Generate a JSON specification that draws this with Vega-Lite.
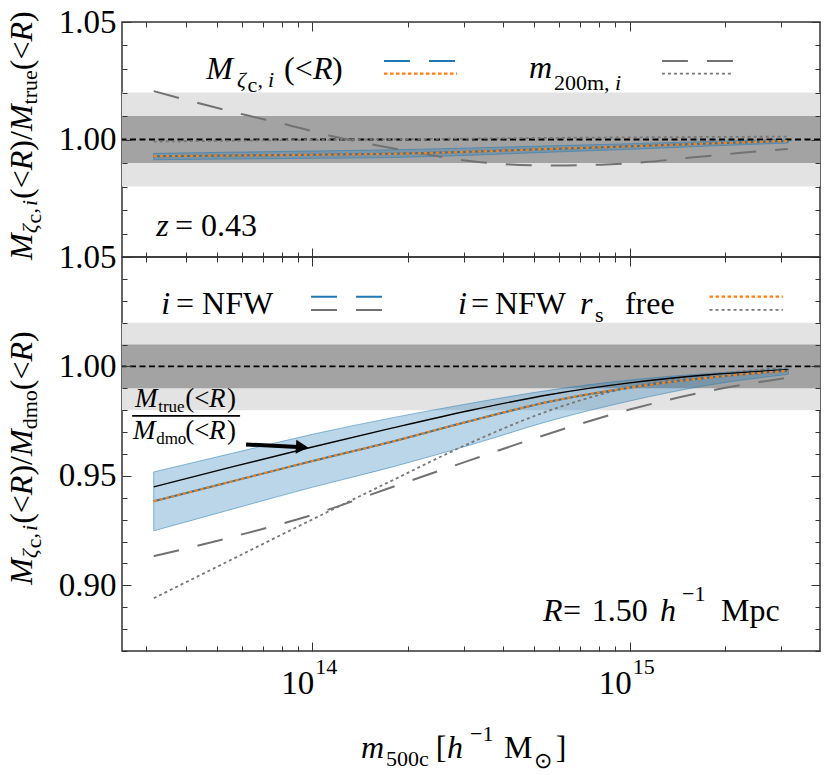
{
  "$schema": "https://vega.github.io/schema/vega-lite/v6.json",
  "padding": {"left": 5, "top": 5, "right": 5, "bottom": 0},
  "spacing": 0,
  "bounds": "flush",
  "config": {"view": {"stroke": "#333", "strokeWidth": 1.5}, "text": {"font": "Liberation Serif"}},
  "datasets": {
    "bands": [{"level": "2%", "lo": 0.98, "hi": 1.02}, {"level": "1%", "lo": 0.99, "hi": 1.01}],
    "one": [{"k": 1}],
    "top": [
      {"m": 3.1623e13, "nfw": 0.9929, "rs": 0.9929, "gr": 0.9991, "lo": 0.9914, "hi": 0.9941},
      {"m": 5.6234e13, "nfw": 0.9932, "rs": 0.9932, "gr": 0.9995, "lo": 0.9917, "hi": 0.9946},
      {"m": 1e14, "nfw": 0.9935, "rs": 0.9935, "gr": 0.9998, "lo": 0.992, "hi": 0.9951},
      {"m": 1.7783e14, "nfw": 0.9939, "rs": 0.9939, "gr": 1.0001, "lo": 0.9923, "hi": 0.9956},
      {"m": 3.1623e14, "nfw": 0.9948, "rs": 0.9948, "gr": 1.0004, "lo": 0.9933, "hi": 0.9964},
      {"m": 5.6234e14, "nfw": 0.996, "rs": 0.996, "gr": 1.0007, "lo": 0.9946, "hi": 0.9973},
      {"m": 1e15, "nfw": 0.9971, "rs": 0.9971, "gr": 1.0009, "lo": 0.9958, "hi": 0.9982},
      {"m": 1.7783e15, "nfw": 0.9983, "rs": 0.9983, "gr": 1.0011, "lo": 0.9972, "hi": 0.9992},
      {"m": 3.1623e15, "nfw": 0.9994, "rs": 0.9994, "gr": 1.0012, "lo": 0.9985, "hi": 1.0001}
    ],
    "top_gn": [
      {"m": 3.164e13, "v": 1.0206}, {"m": 4.364e13, "v": 1.0155}, {"m": 6.124e13, "v": 1.0105},
      {"m": 8.383e13, "v": 1.0062}, {"m": 1.148e14, "v": 1.0015}, {"m": 1.573e14, "v": 0.9977},
      {"m": 2.153e14, "v": 0.9943}, {"m": 3.028e14, "v": 0.9911}, {"m": 4.197e14, "v": 0.9894},
      {"m": 5.818e14, "v": 0.9889}, {"m": 8.121e14, "v": 0.9893}, {"m": 1.125e15, "v": 0.9904},
      {"m": 1.56e15, "v": 0.9923}, {"m": 2.162e15, "v": 0.9941}, {"m": 3.153e15, "v": 0.996}
    ],
    "bot": [
      {"m": 3.1623e13, "tr": 0.945, "nfw": 0.9384, "rs": 0.9384, "gn": 0.9133, "gr": 0.8941, "lo": 0.9249, "hi": 0.9518},
      {"m": 5.6234e13, "tr": 0.9542, "nfw": 0.9476, "rs": 0.9476, "gn": 0.9222, "gr": 0.9121, "lo": 0.9349, "hi": 0.9604},
      {"m": 1e14, "tr": 0.9632, "nfw": 0.9568, "rs": 0.9568, "gn": 0.9322, "gr": 0.9301, "lo": 0.9448, "hi": 0.969},
      {"m": 1.7783e14, "tr": 0.9718, "nfw": 0.9656, "rs": 0.9656, "gn": 0.9448, "gr": 0.9478, "lo": 0.954, "hi": 0.9765},
      {"m": 3.1623e14, "tr": 0.98, "nfw": 0.9752, "rs": 0.9752, "gn": 0.9573, "gr": 0.9652, "lo": 0.9642, "hi": 0.9832},
      {"m": 5.6234e14, "tr": 0.9872, "nfw": 0.984, "rs": 0.984, "gn": 0.9695, "gr": 0.98, "lo": 0.9752, "hi": 0.9892},
      {"m": 1e15, "tr": 0.9925, "nfw": 0.9903, "rs": 0.9903, "gn": 0.9803, "gr": 0.9905, "lo": 0.9842, "hi": 0.9938},
      {"m": 1.7783e15, "tr": 0.9962, "nfw": 0.9949, "rs": 0.9949, "gn": 0.9888, "gr": 0.9962, "lo": 0.9915, "hi": 0.9968},
      {"m": 3.1623e15, "tr": 0.9985, "nfw": 0.998, "rs": 0.998, "gn": 0.9949, "gr": 0.9995, "lo": 0.9964, "hi": 0.999}
    ],
    "top_leg": [
      {"s": "nfw", "x1": 1.682e14, "x2": 2.836e14, "y": 1.0334},
      {"s": "rs", "x1": 1.682e14, "x2": 2.857e14, "y": 1.028},
      {"s": "gn", "x1": 1.264e15, "x2": 2.131e15, "y": 1.0334},
      {"s": "gr", "x1": 1.264e15, "x2": 2.085e15, "y": 1.028}
    ],
    "bot_leg": [
      {"s": "nfw", "x1": 9.906e13, "x2": 1.694e14, "y": 1.03187},
      {"s": "gn", "x1": 9.906e13, "x2": 1.694e14, "y": 1.0258},
      {"s": "rs", "x1": 1.786e15, "x2": 3.041e15, "y": 1.03187},
      {"s": "gr", "x1": 1.786e15, "x2": 3.041e15, "y": 1.0258}
    ],
    "frac": [{"x1": 2.704e13, "x2": 5.918e13, "y": 0.9774}],
    "arrow": [{"x1": 6.18e13, "x2": 9.014e13, "y1": 0.96438, "y2": 0.96324}],
    "head": [{"x": 9.28e13, "y": 0.96315}],
    "t_bi": [
      {"x": 4.626e13, "y": 1.02574, "t": "M"}, {"x": 1.005e14, "y": 1.02574, "t": "R"},
      {"x": 4.816e14, "y": 1.02617, "t": "m"}, {"x": 3.218e13, "y": 0.95894, "t": "z"}
    ],
    "t_bn": [
      {"x": 8.143e13, "y": 1.02574, "t": "(<"}, {"x": 1.154e14, "y": 1.02574, "t": ")"},
      {"x": 3.693e13, "y": 0.95894, "t": "="}, {"x": 4.46e13, "y": 0.95894, "t": "0.43"}
    ],
    "t_si": [
      {"x": 5.789e13, "y": 1.02234, "t": "ζ"}, {"x": 7.252e13, "y": 1.02234, "t": "i"},
      {"x": 8.99e14, "y": 1.02106, "t": "i"}
    ],
    "t_sn": [
      {"x": 6.248e13, "y": 1.02021, "t": "c"}, {"x": 6.721e13, "y": 1.02234, "t": ","},
      {"x": 5.776e14, "y": 1.02106, "t": "200m,"}
    ],
    "t_rbi": [
      {"x": 1.309e13, "y": 0.94872, "t": "M"}, {"x": 1.309e13, "y": 0.98689, "t": "R"},
      {"x": 1.309e13, "y": 1.00357, "t": "M"}, {"x": 1.309e13, "y": 1.0417, "t": "R"}
    ],
    "t_rbn": [
      {"x": 1.309e13, "y": 0.97468, "t": "(<"}, {"x": 1.309e13, "y": 0.99523, "t": ")"},
      {"x": 1.309e13, "y": 0.99979, "t": "/"}, {"x": 1.309e13, "y": 1.02949, "t": "(<"},
      {"x": 1.309e13, "y": 1.05004, "t": ")"}
    ],
    "t_rsi": [
      {"x": 1.357e13, "y": 0.96009, "t": "ζ"}, {"x": 1.357e13, "y": 0.97166, "t": "i"}
    ],
    "t_rsn": [
      {"x": 1.397e13, "y": 0.9643, "t": "c"}, {"x": 1.357e13, "y": 0.96847, "t": ","},
      {"x": 1.357e13, "y": 1.01494, "t": "true"}
    ],
    "b_bi": [
      {"x": 3.337e13, "y": 1.02384, "t": "i"}, {"x": 2.877e14, "y": 1.02384, "t": "i"},
      {"x": 6.972e14, "y": 1.02384, "t": "r"}, {"x": 5.331e14, "y": 0.88379, "t": "R"},
      {"x": 1.246e15, "y": 0.88379, "t": "h"}, {"x": 1.423e14, "y": 0.82123, "t": "m"},
      {"x": 2.657e14, "y": 0.82123, "t": "h"}
    ],
    "b_bn": [
      {"x": 3.72e13, "y": 1.02384, "t": "="}, {"x": 4.493e13, "y": 1.02384, "t": "NFW"},
      {"x": 3.162e14, "y": 1.02384, "t": "="}, {"x": 3.763e14, "y": 1.02384, "t": "NFW"},
      {"x": 9.665e14, "y": 1.02384, "t": "free"}, {"x": 6.164e14, "y": 0.88379, "t": "="},
      {"x": 7.6e14, "y": 0.88379, "t": "1.50"}, {"x": 1.94e15, "y": 0.88379, "t": "Mpc"},
      {"x": 2.45e14, "y": 0.82123, "t": "["}, {"x": 4.02e14, "y": 0.82123, "t": "M"},
      {"x": 5.85e14, "y": 0.82123, "t": "]"}
    ],
    "b_sn": [
      {"x": 7.777e14, "y": 1.02032, "t": "s"}, {"x": 1.462e15, "y": 0.89292, "t": "−1"},
      {"x": 1.707e14, "y": 0.81758, "t": "500c"}, {"x": 3.139e14, "y": 0.829, "t": "−1"},
      {"x": 4.99e14, "y": 0.81667, "t": "⊙"}, {"x": 1.022e14, "y": 0.85959, "t": "14"},
      {"x": 1.022e15, "y": 0.85959, "t": "15"}
    ],
    "b_tick": [
      {"x": 1.0146e14, "y": 0.85046, "t": "10"}, {"x": 1.0146e15, "y": 0.85046, "t": "10"}
    ],
    "b_fi": [
      {"x": 2.763e13, "y": 0.98128, "t": "M"}, {"x": 4.727e13, "y": 0.98128, "t": "R"},
      {"x": 2.723e13, "y": 0.96667, "t": "M"}, {"x": 4.727e13, "y": 0.96667, "t": "R"}
    ],
    "b_fn": [
      {"x": 3.972e13, "y": 0.98128, "t": "(<"}, {"x": 5.387e13, "y": 0.98128, "t": ")"},
      {"x": 3.972e13, "y": 0.96667, "t": "(<"}, {"x": 5.387e13, "y": 0.96667, "t": ")"}
    ],
    "b_fsn": [
      {"x": 3.266e13, "y": 0.97922, "t": "true"}, {"x": 3.218e13, "y": 0.96461, "t": "dmo"}
    ],
    "b_rbi": [
      {"x": 1.309e13, "y": 0.90023, "t": "M"}, {"x": 1.309e13, "y": 0.94119, "t": "R"},
      {"x": 1.309e13, "y": 0.95909, "t": "M"}, {"x": 1.309e13, "y": 1.00224, "t": "R"}
    ],
    "b_rbn": [
      {"x": 1.309e13, "y": 0.92808, "t": "(<"}, {"x": 1.309e13, "y": 0.95014, "t": ")"},
      {"x": 1.309e13, "y": 0.95502, "t": "/"}, {"x": 1.309e13, "y": 0.98913, "t": "(<"},
      {"x": 1.309e13, "y": 1.01119, "t": ")"}
    ],
    "b_rsi": [
      {"x": 1.357e13, "y": 0.91242, "t": "ζ"}, {"x": 1.357e13, "y": 0.92484, "t": "i"}
    ],
    "b_rsn": [
      {"x": 1.397e13, "y": 0.91694, "t": "c"}, {"x": 1.357e13, "y": 0.92142, "t": ","},
      {"x": 1.357e13, "y": 0.97128, "t": "dmo"}
    ]
  },
  "vconcat": [
    {
      "width": 698,
      "height": 235,
      "resolve": {"scale": {"x": "shared", "y": "shared"}, "axis": {"x": "independent", "y": "independent"}},
      "layer": [
        {"data": {"name": "bands"}, "mark": {"type": "rect"},
         "encoding": {
           "x": {"datum": 2.512e13, "type": "quantitative", "scale": {"type": "log", "domain": [2.512e13, 3.981e15], "nice": false}, "axis": null},
           "x2": {"datum": 3.981e15},
           "y": {"field": "lo", "type": "quantitative", "scale": {"domain": [0.95, 1.05], "nice": false, "zero": false}, "axis": null},
           "y2": {"field": "hi"},
           "color": {"field": "level", "type": "nominal", "scale": {"domain": ["2%", "1%"], "range": ["#e3e3e3", "#a3a3a3"]}, "legend": null}}},
        {"data": {"name": "top"}, "mark": {"type": "area", "interpolate": "monotone", "fill": "#1f77b4", "fillOpacity": 0.3, "stroke": "#1f77b4", "strokeOpacity": 0.5, "strokeWidth": 1},
         "encoding": {
           "x": {"field": "m", "type": "quantitative", "scale": {"type": "log", "domain": [2.512e13, 3.981e15], "nice": false}, "axis": null},
           "y": {"field": "lo", "type": "quantitative", "scale": {"domain": [0.95, 1.05], "nice": false, "zero": false}, "axis": null},
           "y2": {"field": "hi"}}},
        {"data": {"name": "one"}, "mark": {"type": "rule", "color": "black", "strokeDash": [6, 3.5], "strokeWidth": 1.8},
         "encoding": {"y": {"datum": 1, "type": "quantitative", "scale": {"domain": [0.95, 1.05], "nice": false, "zero": false}, "axis": null}}},
        {"data": {"name": "top_gn"}, "mark": {"type": "line", "interpolate": "monotone", "color": "#727272", "strokeDash": [26, 19], "strokeWidth": 2},
         "encoding": {
           "x": {"field": "m", "type": "quantitative", "scale": {"type": "log", "domain": [2.512e13, 3.981e15], "nice": false}, "axis": null},
           "y": {"field": "v", "type": "quantitative", "scale": {"domain": [0.95, 1.05], "nice": false, "zero": false}, "axis": null}}},
        {"data": {"name": "top"}, "mark": {"type": "line", "interpolate": "monotone", "color": "#777777", "strokeDash": [3, 3], "strokeWidth": 1.8},
         "encoding": {
           "x": {"field": "m", "type": "quantitative", "scale": {"type": "log", "domain": [2.512e13, 3.981e15], "nice": false}, "axis": null},
           "y": {"field": "gr", "type": "quantitative", "scale": {"domain": [0.95, 1.05], "nice": false, "zero": false}, "axis": null}}},
        {"data": {"name": "top"}, "mark": {"type": "line", "interpolate": "monotone", "color": "#1f77b4", "strokeWidth": 2},
         "encoding": {
           "x": {"field": "m", "type": "quantitative", "scale": {"type": "log", "domain": [2.512e13, 3.981e15], "nice": false},
                 "axis": {"orient": "bottom", "values": [3e13, 4e13, 5e13, 6e13, 7e13, 8e13, 9e13, 1e14, 2e14, 3e14, 4e14, 5e14, 6e14, 7e14, 8e14, 9e14, 1e15, 2e15, 3e15], "labels": false,
                          "tickSize": {"condition": {"test": "datum.value == 1e14 || datum.value == 1e15", "value": -9}, "value": -5},
                          "domain": false, "grid": false, "title": null, "tickColor": "#333", "tickWidth": 1, "zindex": 1}},
           "y": {"field": "nfw", "type": "quantitative", "scale": {"domain": [0.95, 1.05], "nice": false, "zero": false},
                 "axis": {"orient": "left", "values": [0.95, 0.96, 0.97, 0.98, 0.99, 1, 1.01, 1.02, 1.03, 1.04, 1.05],
                          "labelExpr": "abs(datum.value*20-round(datum.value*20))<0.001 && datum.value > 0.97 ? format(datum.value, '.2f') : ''",
                          "labelFont": "Liberation Serif", "labelFontSize": 33, "labelColor": "black", "labelPadding": 15,
                          "labelOverlap": false, "labelFlush": false, "labelBound": false,
                          "tickSize": {"condition": {"test": "abs(datum.value*20-round(datum.value*20))<0.001", "value": -9}, "value": -5},
                          "domain": false, "grid": false, "title": null, "tickColor": "#333", "tickWidth": 1, "zindex": 1}}}},
        {"data": {"name": "top"}, "mark": {"type": "line", "interpolate": "monotone", "color": "#ff7f0e", "strokeDash": [3.5, 2.5], "strokeWidth": 2.2},
         "encoding": {
           "x": {"field": "m", "type": "quantitative", "scale": {"type": "log", "domain": [2.512e13, 3.981e15], "nice": false},
                 "axis": {"orient": "top", "values": [3e13, 4e13, 5e13, 6e13, 7e13, 8e13, 9e13, 1e14, 2e14, 3e14, 4e14, 5e14, 6e14, 7e14, 8e14, 9e14, 1e15, 2e15, 3e15], "labels": false,
                          "tickSize": {"condition": {"test": "datum.value == 1e14 || datum.value == 1e15", "value": -9}, "value": -5},
                          "domain": false, "grid": false, "title": null, "tickColor": "#333", "tickWidth": 1, "zindex": 1}},
           "y": {"field": "rs", "type": "quantitative", "scale": {"domain": [0.95, 1.05], "nice": false, "zero": false},
                 "axis": {"orient": "right", "values": [0.95, 0.96, 0.97, 0.98, 0.99, 1, 1.01, 1.02, 1.03, 1.04, 1.05], "labels": false,
                          "tickSize": {"condition": {"test": "abs(datum.value*20-round(datum.value*20))<0.001", "value": -9}, "value": -5},
                          "domain": false, "grid": false, "title": null, "tickColor": "#333", "tickWidth": 1, "zindex": 1}}}},
        {"data": {"name": "top_leg"}, "transform": [{"filter": "datum.s == 'nfw'"}], "mark": {"type": "rule", "color": "#1f77b4", "strokeDash": [26, 19], "strokeWidth": 2},
         "encoding": {"x": {"field": "x1", "type": "quantitative", "scale": {"type": "log", "domain": [2.512e13, 3.981e15], "nice": false}, "axis": null}, "x2": {"field": "x2"},
                      "y": {"field": "y", "type": "quantitative", "scale": {"domain": [0.95, 1.05], "nice": false, "zero": false}, "axis": null}}},
        {"data": {"name": "top_leg"}, "transform": [{"filter": "datum.s == 'rs'"}], "mark": {"type": "rule", "color": "#ff7f0e", "strokeDash": [3.5, 2.5], "strokeWidth": 2.2},
         "encoding": {"x": {"field": "x1", "type": "quantitative", "scale": {"type": "log", "domain": [2.512e13, 3.981e15], "nice": false}, "axis": null}, "x2": {"field": "x2"},
                      "y": {"field": "y", "type": "quantitative", "scale": {"domain": [0.95, 1.05], "nice": false, "zero": false}, "axis": null}}},
        {"data": {"name": "top_leg"}, "transform": [{"filter": "datum.s == 'gn'"}], "mark": {"type": "rule", "color": "#727272", "strokeDash": [26, 19], "strokeWidth": 2},
         "encoding": {"x": {"field": "x1", "type": "quantitative", "scale": {"type": "log", "domain": [2.512e13, 3.981e15], "nice": false}, "axis": null}, "x2": {"field": "x2"},
                      "y": {"field": "y", "type": "quantitative", "scale": {"domain": [0.95, 1.05], "nice": false, "zero": false}, "axis": null}}},
        {"data": {"name": "top_leg"}, "transform": [{"filter": "datum.s == 'gr'"}], "mark": {"type": "rule", "color": "#777777", "strokeDash": [3, 3], "strokeWidth": 1.8},
         "encoding": {"x": {"field": "x1", "type": "quantitative", "scale": {"type": "log", "domain": [2.512e13, 3.981e15], "nice": false}, "axis": null}, "x2": {"field": "x2"},
                      "y": {"field": "y", "type": "quantitative", "scale": {"domain": [0.95, 1.05], "nice": false, "zero": false}, "axis": null}}},
        {"data": {"name": "t_bi"}, "mark": {"type": "text", "font": "Liberation Serif", "fontSize": 32, "fontStyle": "italic", "align": "left", "baseline": "alphabetic", "color": "black"},
         "encoding": {"x": {"field": "x", "type": "quantitative", "scale": {"type": "log", "domain": [2.512e13, 3.981e15], "nice": false}, "axis": null},
                      "y": {"field": "y", "type": "quantitative", "scale": {"domain": [0.95, 1.05], "nice": false, "zero": false}, "axis": null},
                      "text": {"field": "t", "type": "nominal"}}},
        {"data": {"name": "t_bn"}, "mark": {"type": "text", "font": "Liberation Serif", "fontSize": 32, "align": "left", "baseline": "alphabetic", "color": "black"},
         "encoding": {"x": {"field": "x", "type": "quantitative", "scale": {"type": "log", "domain": [2.512e13, 3.981e15], "nice": false}, "axis": null},
                      "y": {"field": "y", "type": "quantitative", "scale": {"domain": [0.95, 1.05], "nice": false, "zero": false}, "axis": null},
                      "text": {"field": "t", "type": "nominal"}}},
        {"data": {"name": "t_si"}, "mark": {"type": "text", "font": "Liberation Serif", "fontSize": 22, "fontStyle": "italic", "align": "left", "baseline": "alphabetic", "color": "black"},
         "encoding": {"x": {"field": "x", "type": "quantitative", "scale": {"type": "log", "domain": [2.512e13, 3.981e15], "nice": false}, "axis": null},
                      "y": {"field": "y", "type": "quantitative", "scale": {"domain": [0.95, 1.05], "nice": false, "zero": false}, "axis": null},
                      "text": {"field": "t", "type": "nominal"}}},
        {"data": {"name": "t_sn"}, "mark": {"type": "text", "font": "Liberation Serif", "fontSize": 22, "align": "left", "baseline": "alphabetic", "color": "black"},
         "encoding": {"x": {"field": "x", "type": "quantitative", "scale": {"type": "log", "domain": [2.512e13, 3.981e15], "nice": false}, "axis": null},
                      "y": {"field": "y", "type": "quantitative", "scale": {"domain": [0.95, 1.05], "nice": false, "zero": false}, "axis": null},
                      "text": {"field": "t", "type": "nominal"}}},
        {"data": {"name": "t_rbi"}, "mark": {"type": "text", "font": "Liberation Serif", "fontSize": 32, "fontStyle": "italic", "angle": 270, "align": "left", "baseline": "alphabetic", "color": "black"},
         "encoding": {"x": {"field": "x", "type": "quantitative", "scale": {"type": "log", "domain": [2.512e13, 3.981e15], "nice": false}, "axis": null},
                      "y": {"field": "y", "type": "quantitative", "scale": {"domain": [0.95, 1.05], "nice": false, "zero": false}, "axis": null},
                      "text": {"field": "t", "type": "nominal"}}},
        {"data": {"name": "t_rbn"}, "mark": {"type": "text", "font": "Liberation Serif", "fontSize": 32, "angle": 270, "align": "left", "baseline": "alphabetic", "color": "black"},
         "encoding": {"x": {"field": "x", "type": "quantitative", "scale": {"type": "log", "domain": [2.512e13, 3.981e15], "nice": false}, "axis": null},
                      "y": {"field": "y", "type": "quantitative", "scale": {"domain": [0.95, 1.05], "nice": false, "zero": false}, "axis": null},
                      "text": {"field": "t", "type": "nominal"}}},
        {"data": {"name": "t_rsi"}, "mark": {"type": "text", "font": "Liberation Serif", "fontSize": 22, "fontStyle": "italic", "angle": 270, "align": "left", "baseline": "alphabetic", "color": "black"},
         "encoding": {"x": {"field": "x", "type": "quantitative", "scale": {"type": "log", "domain": [2.512e13, 3.981e15], "nice": false}, "axis": null},
                      "y": {"field": "y", "type": "quantitative", "scale": {"domain": [0.95, 1.05], "nice": false, "zero": false}, "axis": null},
                      "text": {"field": "t", "type": "nominal"}}},
        {"data": {"name": "t_rsn"}, "mark": {"type": "text", "font": "Liberation Serif", "fontSize": 22, "angle": 270, "align": "left", "baseline": "alphabetic", "color": "black"},
         "encoding": {"x": {"field": "x", "type": "quantitative", "scale": {"type": "log", "domain": [2.512e13, 3.981e15], "nice": false}, "axis": null},
                      "y": {"field": "y", "type": "quantitative", "scale": {"domain": [0.95, 1.05], "nice": false, "zero": false}, "axis": null},
                      "text": {"field": "t", "type": "nominal"}}}
      ]
    },
    {
      "width": 698,
      "height": 394,
      "resolve": {"scale": {"x": "shared", "y": "shared"}, "axis": {"x": "independent", "y": "independent"}},
      "layer": [
        {"data": {"name": "bands"}, "mark": {"type": "rect"},
         "encoding": {
           "x": {"datum": 2.512e13, "type": "quantitative", "scale": {"type": "log", "domain": [2.512e13, 3.981e15], "nice": false}, "axis": null},
           "x2": {"datum": 3.981e15},
           "y": {"field": "lo", "type": "quantitative", "scale": {"domain": [0.87, 1.05], "nice": false, "zero": false}, "axis": null},
           "y2": {"field": "hi"},
           "color": {"field": "level", "type": "nominal", "scale": {"domain": ["2%", "1%"], "range": ["#e3e3e3", "#a3a3a3"]}, "legend": null}}},
        {"data": {"name": "bot"}, "mark": {"type": "area", "interpolate": "monotone", "fill": "#1f77b4", "fillOpacity": 0.3, "stroke": "#1f77b4", "strokeOpacity": 0.5, "strokeWidth": 1},
         "encoding": {
           "x": {"field": "m", "type": "quantitative", "scale": {"type": "log", "domain": [2.512e13, 3.981e15], "nice": false}, "axis": null},
           "y": {"field": "lo", "type": "quantitative", "scale": {"domain": [0.87, 1.05], "nice": false, "zero": false}, "axis": null},
           "y2": {"field": "hi"}}},
        {"data": {"name": "one"}, "mark": {"type": "rule", "color": "black", "strokeDash": [6, 3.5], "strokeWidth": 1.8},
         "encoding": {"y": {"datum": 1, "type": "quantitative", "scale": {"domain": [0.87, 1.05], "nice": false, "zero": false}, "axis": null}}},
        {"data": {"name": "bot"}, "mark": {"type": "line", "interpolate": "monotone", "color": "#727272", "strokeDash": [26, 19], "strokeWidth": 2},
         "encoding": {
           "x": {"field": "m", "type": "quantitative", "scale": {"type": "log", "domain": [2.512e13, 3.981e15], "nice": false}, "axis": null},
           "y": {"field": "gn", "type": "quantitative", "scale": {"domain": [0.87, 1.05], "nice": false, "zero": false}, "axis": null}}},
        {"data": {"name": "bot"}, "mark": {"type": "line", "interpolate": "monotone", "color": "#777777", "strokeDash": [3, 3], "strokeWidth": 1.8},
         "encoding": {
           "x": {"field": "m", "type": "quantitative", "scale": {"type": "log", "domain": [2.512e13, 3.981e15], "nice": false}, "axis": null},
           "y": {"field": "gr", "type": "quantitative", "scale": {"domain": [0.87, 1.05], "nice": false, "zero": false}, "axis": null}}},
        {"data": {"name": "bot"}, "mark": {"type": "line", "interpolate": "monotone", "color": "black", "strokeWidth": 1.4},
         "encoding": {
           "x": {"field": "m", "type": "quantitative", "scale": {"type": "log", "domain": [2.512e13, 3.981e15], "nice": false}, "axis": null},
           "y": {"field": "tr", "type": "quantitative", "scale": {"domain": [0.87, 1.05], "nice": false, "zero": false}, "axis": null}}},
        {"data": {"name": "bot"}, "mark": {"type": "line", "interpolate": "monotone", "color": "#1f77b4", "strokeWidth": 2},
         "encoding": {
           "x": {"field": "m", "type": "quantitative", "scale": {"type": "log", "domain": [2.512e13, 3.981e15], "nice": false},
                 "axis": {"orient": "bottom", "values": [3e13, 4e13, 5e13, 6e13, 7e13, 8e13, 9e13, 1e14, 2e14, 3e14, 4e14, 5e14, 6e14, 7e14, 8e14, 9e14, 1e15, 2e15, 3e15], "labels": false,
                          "tickSize": {"condition": {"test": "datum.value == 1e14 || datum.value == 1e15", "value": -9}, "value": -5},
                          "domain": false, "grid": false, "title": null, "tickColor": "#333", "tickWidth": 1, "zindex": 1}},
           "y": {"field": "nfw", "type": "quantitative", "scale": {"domain": [0.87, 1.05], "nice": false, "zero": false},
                 "axis": {"orient": "left", "values": [0.87, 0.88, 0.89, 0.9, 0.91, 0.92, 0.93, 0.94, 0.95, 0.96, 0.97, 0.98, 0.99, 1, 1.01, 1.02, 1.03, 1.04, 1.05],
                          "labelExpr": "abs(datum.value*20-round(datum.value*20))<0.001 ? format(datum.value, '.2f') : ''",
                          "labelFont": "Liberation Serif", "labelFontSize": 33, "labelColor": "black", "labelPadding": 15,
                          "labelOverlap": false, "labelFlush": false, "labelBound": false,
                          "tickSize": {"condition": {"test": "abs(datum.value*20-round(datum.value*20))<0.001", "value": -9}, "value": -5},
                          "domain": false, "grid": false, "title": null, "tickColor": "#333", "tickWidth": 1, "zindex": 1}}}},
        {"data": {"name": "bot"}, "mark": {"type": "line", "interpolate": "monotone", "color": "#ff7f0e", "strokeDash": [3.5, 2.5], "strokeWidth": 2.2},
         "encoding": {
           "x": {"field": "m", "type": "quantitative", "scale": {"type": "log", "domain": [2.512e13, 3.981e15], "nice": false},
                 "axis": {"orient": "top", "values": [3e13, 4e13, 5e13, 6e13, 7e13, 8e13, 9e13, 1e14, 2e14, 3e14, 4e14, 5e14, 6e14, 7e14, 8e14, 9e14, 1e15, 2e15, 3e15], "labels": false,
                          "tickSize": {"condition": {"test": "datum.value == 1e14 || datum.value == 1e15", "value": -9}, "value": -5},
                          "domain": false, "grid": false, "title": null, "tickColor": "#333", "tickWidth": 1, "zindex": 1}},
           "y": {"field": "rs", "type": "quantitative", "scale": {"domain": [0.87, 1.05], "nice": false, "zero": false},
                 "axis": {"orient": "right", "values": [0.87, 0.88, 0.89, 0.9, 0.91, 0.92, 0.93, 0.94, 0.95, 0.96, 0.97, 0.98, 0.99, 1, 1.01, 1.02, 1.03, 1.04, 1.05], "labels": false,
                          "tickSize": {"condition": {"test": "abs(datum.value*20-round(datum.value*20))<0.001", "value": -9}, "value": -5},
                          "domain": false, "grid": false, "title": null, "tickColor": "#333", "tickWidth": 1, "zindex": 1}}}},
        {"data": {"name": "bot_leg"}, "transform": [{"filter": "datum.s == 'nfw'"}], "mark": {"type": "rule", "color": "#1f77b4", "strokeDash": [26, 19], "strokeWidth": 2},
         "encoding": {"x": {"field": "x1", "type": "quantitative", "scale": {"type": "log", "domain": [2.512e13, 3.981e15], "nice": false}, "axis": null}, "x2": {"field": "x2"},
                      "y": {"field": "y", "type": "quantitative", "scale": {"domain": [0.87, 1.05], "nice": false, "zero": false}, "axis": null}}},
        {"data": {"name": "bot_leg"}, "transform": [{"filter": "datum.s == 'gn'"}], "mark": {"type": "rule", "color": "#727272", "strokeDash": [26, 19], "strokeWidth": 2},
         "encoding": {"x": {"field": "x1", "type": "quantitative", "scale": {"type": "log", "domain": [2.512e13, 3.981e15], "nice": false}, "axis": null}, "x2": {"field": "x2"},
                      "y": {"field": "y", "type": "quantitative", "scale": {"domain": [0.87, 1.05], "nice": false, "zero": false}, "axis": null}}},
        {"data": {"name": "bot_leg"}, "transform": [{"filter": "datum.s == 'rs'"}], "mark": {"type": "rule", "color": "#ff7f0e", "strokeDash": [3.5, 2.5], "strokeWidth": 2.2},
         "encoding": {"x": {"field": "x1", "type": "quantitative", "scale": {"type": "log", "domain": [2.512e13, 3.981e15], "nice": false}, "axis": null}, "x2": {"field": "x2"},
                      "y": {"field": "y", "type": "quantitative", "scale": {"domain": [0.87, 1.05], "nice": false, "zero": false}, "axis": null}}},
        {"data": {"name": "bot_leg"}, "transform": [{"filter": "datum.s == 'gr'"}], "mark": {"type": "rule", "color": "#777777", "strokeDash": [3, 3], "strokeWidth": 1.8},
         "encoding": {"x": {"field": "x1", "type": "quantitative", "scale": {"type": "log", "domain": [2.512e13, 3.981e15], "nice": false}, "axis": null}, "x2": {"field": "x2"},
                      "y": {"field": "y", "type": "quantitative", "scale": {"domain": [0.87, 1.05], "nice": false, "zero": false}, "axis": null}}},
        {"data": {"name": "frac"}, "mark": {"type": "rule", "color": "black", "strokeWidth": 1.6},
         "encoding": {"x": {"field": "x1", "type": "quantitative", "scale": {"type": "log", "domain": [2.512e13, 3.981e15], "nice": false}, "axis": null}, "x2": {"field": "x2"},
                      "y": {"field": "y", "type": "quantitative", "scale": {"domain": [0.87, 1.05], "nice": false, "zero": false}, "axis": null}}},
        {"data": {"name": "arrow"}, "mark": {"type": "rule", "color": "black", "strokeWidth": 4},
         "encoding": {"x": {"field": "x1", "type": "quantitative", "scale": {"type": "log", "domain": [2.512e13, 3.981e15], "nice": false}, "axis": null}, "x2": {"field": "x2"},
                      "y": {"field": "y1", "type": "quantitative", "scale": {"domain": [0.87, 1.05], "nice": false, "zero": false}, "axis": null}, "y2": {"field": "y2"}}},
        {"data": {"name": "head"}, "mark": {"type": "point", "shape": "triangle-right", "filled": true, "color": "black", "opacity": 1, "size": 200, "angle": 3},
         "encoding": {"x": {"field": "x", "type": "quantitative", "scale": {"type": "log", "domain": [2.512e13, 3.981e15], "nice": false}, "axis": null},
                      "y": {"field": "y", "type": "quantitative", "scale": {"domain": [0.87, 1.05], "nice": false, "zero": false}, "axis": null}}},
        {"data": {"name": "b_bi"}, "mark": {"type": "text", "font": "Liberation Serif", "fontSize": 32, "fontStyle": "italic", "align": "left", "baseline": "alphabetic", "color": "black"},
         "encoding": {"x": {"field": "x", "type": "quantitative", "scale": {"type": "log", "domain": [2.512e13, 3.981e15], "nice": false}, "axis": null},
                      "y": {"field": "y", "type": "quantitative", "scale": {"domain": [0.87, 1.05], "nice": false, "zero": false}, "axis": null},
                      "text": {"field": "t", "type": "nominal"}}},
        {"data": {"name": "b_bn"}, "mark": {"type": "text", "font": "Liberation Serif", "fontSize": 32, "align": "left", "baseline": "alphabetic", "color": "black"},
         "encoding": {"x": {"field": "x", "type": "quantitative", "scale": {"type": "log", "domain": [2.512e13, 3.981e15], "nice": false}, "axis": null},
                      "y": {"field": "y", "type": "quantitative", "scale": {"domain": [0.87, 1.05], "nice": false, "zero": false}, "axis": null},
                      "text": {"field": "t", "type": "nominal"}}},
        {"data": {"name": "b_sn"}, "mark": {"type": "text", "font": "Liberation Serif", "fontSize": 22, "align": "left", "baseline": "alphabetic", "color": "black"},
         "encoding": {"x": {"field": "x", "type": "quantitative", "scale": {"type": "log", "domain": [2.512e13, 3.981e15], "nice": false}, "axis": null},
                      "y": {"field": "y", "type": "quantitative", "scale": {"domain": [0.87, 1.05], "nice": false, "zero": false}, "axis": null},
                      "text": {"field": "t", "type": "nominal"}}},
        {"data": {"name": "b_tick"}, "mark": {"type": "text", "font": "Liberation Serif", "fontSize": 33, "align": "right", "baseline": "alphabetic", "color": "black"},
         "encoding": {"x": {"field": "x", "type": "quantitative", "scale": {"type": "log", "domain": [2.512e13, 3.981e15], "nice": false}, "axis": null},
                      "y": {"field": "y", "type": "quantitative", "scale": {"domain": [0.87, 1.05], "nice": false, "zero": false}, "axis": null},
                      "text": {"field": "t", "type": "nominal"}}},
        {"data": {"name": "b_fi"}, "mark": {"type": "text", "font": "Liberation Serif", "fontSize": 27, "fontStyle": "italic", "align": "left", "baseline": "alphabetic", "color": "black"},
         "encoding": {"x": {"field": "x", "type": "quantitative", "scale": {"type": "log", "domain": [2.512e13, 3.981e15], "nice": false}, "axis": null},
                      "y": {"field": "y", "type": "quantitative", "scale": {"domain": [0.87, 1.05], "nice": false, "zero": false}, "axis": null},
                      "text": {"field": "t", "type": "nominal"}}},
        {"data": {"name": "b_fn"}, "mark": {"type": "text", "font": "Liberation Serif", "fontSize": 27, "align": "left", "baseline": "alphabetic", "color": "black"},
         "encoding": {"x": {"field": "x", "type": "quantitative", "scale": {"type": "log", "domain": [2.512e13, 3.981e15], "nice": false}, "axis": null},
                      "y": {"field": "y", "type": "quantitative", "scale": {"domain": [0.87, 1.05], "nice": false, "zero": false}, "axis": null},
                      "text": {"field": "t", "type": "nominal"}}},
        {"data": {"name": "b_fsn"}, "mark": {"type": "text", "font": "Liberation Serif", "fontSize": 17, "align": "left", "baseline": "alphabetic", "color": "black"},
         "encoding": {"x": {"field": "x", "type": "quantitative", "scale": {"type": "log", "domain": [2.512e13, 3.981e15], "nice": false}, "axis": null},
                      "y": {"field": "y", "type": "quantitative", "scale": {"domain": [0.87, 1.05], "nice": false, "zero": false}, "axis": null},
                      "text": {"field": "t", "type": "nominal"}}},
        {"data": {"name": "b_rbi"}, "mark": {"type": "text", "font": "Liberation Serif", "fontSize": 32, "fontStyle": "italic", "angle": 270, "align": "left", "baseline": "alphabetic", "color": "black"},
         "encoding": {"x": {"field": "x", "type": "quantitative", "scale": {"type": "log", "domain": [2.512e13, 3.981e15], "nice": false}, "axis": null},
                      "y": {"field": "y", "type": "quantitative", "scale": {"domain": [0.87, 1.05], "nice": false, "zero": false}, "axis": null},
                      "text": {"field": "t", "type": "nominal"}}},
        {"data": {"name": "b_rbn"}, "mark": {"type": "text", "font": "Liberation Serif", "fontSize": 32, "angle": 270, "align": "left", "baseline": "alphabetic", "color": "black"},
         "encoding": {"x": {"field": "x", "type": "quantitative", "scale": {"type": "log", "domain": [2.512e13, 3.981e15], "nice": false}, "axis": null},
                      "y": {"field": "y", "type": "quantitative", "scale": {"domain": [0.87, 1.05], "nice": false, "zero": false}, "axis": null},
                      "text": {"field": "t", "type": "nominal"}}},
        {"data": {"name": "b_rsi"}, "mark": {"type": "text", "font": "Liberation Serif", "fontSize": 22, "fontStyle": "italic", "angle": 270, "align": "left", "baseline": "alphabetic", "color": "black"},
         "encoding": {"x": {"field": "x", "type": "quantitative", "scale": {"type": "log", "domain": [2.512e13, 3.981e15], "nice": false}, "axis": null},
                      "y": {"field": "y", "type": "quantitative", "scale": {"domain": [0.87, 1.05], "nice": false, "zero": false}, "axis": null},
                      "text": {"field": "t", "type": "nominal"}}},
        {"data": {"name": "b_rsn"}, "mark": {"type": "text", "font": "Liberation Serif", "fontSize": 22, "angle": 270, "align": "left", "baseline": "alphabetic", "color": "black"},
         "encoding": {"x": {"field": "x", "type": "quantitative", "scale": {"type": "log", "domain": [2.512e13, 3.981e15], "nice": false}, "axis": null},
                      "y": {"field": "y", "type": "quantitative", "scale": {"domain": [0.87, 1.05], "nice": false, "zero": false}, "axis": null},
                      "text": {"field": "t", "type": "nominal"}}}
      ]
    }
  ]
}
